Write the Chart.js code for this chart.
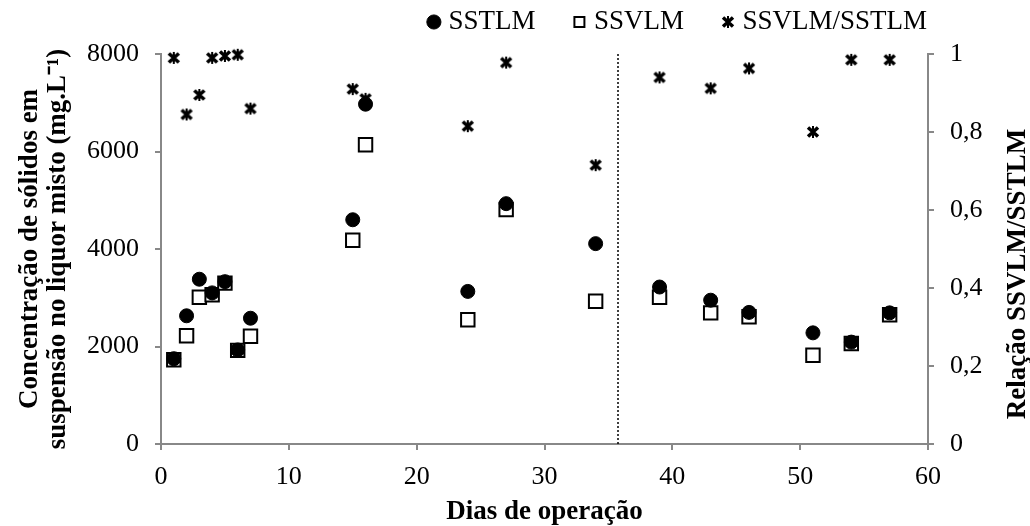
<!DOCTYPE html>
<html>
<head>
<meta charset="utf-8">
<script src="https://cdn.jsdelivr.net/npm/chart.js@4"></script>
<style>
  html, body { margin: 0; padding: 0; background: #fff; }
  #wrap { width: 1030px; height: 526px; }
</style>
</head>
<body>
<div id="wrap"><canvas id="chart" width="1030" height="526"></canvas></div>
<script>
// operating days and measured values
const days = [1, 2, 3, 4, 5, 6, 7, 15, 16, 24, 27, 34, 39, 43, 46, 51, 54, 57];
const sstlm = [1750, 2630, 3380, 3100, 3330, 1930, 2580, 4600, 6970, 3130, 4930, 4110, 3220, 2950, 2700, 2280, 2090, 2690];
const ssvlm = [1730, 2220, 3010, 3060, 3300, 1920, 2210, 4180, 6140, 2550, 4810, 2930, 3010, 2690, 2610, 1820, 2060, 2650];
const ratio = [0.99, 0.845, 0.895, 0.99, 0.995, 0.998, 0.86, 0.91, 0.885, 0.815, 0.978, 0.715, 0.94, 0.912, 0.963, 0.80, 0.985, 0.985];
const dividerDay = 35.75;

const FONT = "'Liberation Serif', 'Times New Roman', serif";
const AXIS_GREY = '#888888';

Chart.defaults.font.family = FONT;
Chart.defaults.color = '#000';

// heavy "x" marker with small vertical nubs, like the spreadsheet star marker
const starMark = document.createElement('canvas');
starMark.width = 14;
starMark.height = 14;
(() => {
    const c = starMark.getContext('2d');
    c.strokeStyle = '#000';
    c.lineWidth = 3.5;
    c.beginPath();
    c.moveTo(2, 2.5); c.lineTo(12, 11.5);
    c.moveTo(12, 2.5); c.lineTo(2, 11.5);
    c.stroke();
    c.lineWidth = 2;
    c.beginPath();
    c.moveTo(7, 1); c.lineTo(7, 13);
    c.stroke();
})();

const pts = (ys) => days.map((d, i) => ({x: d, y: ys[i]}));

const rightTitle = {
    id: 'rightTitle',
    afterDraw(chart) {
        const ctx = chart.ctx;
        ctx.save();
        ctx.translate(chart.width - 12, 274);
        ctx.rotate(-Math.PI / 2);
        ctx.font = 'bold 27px ' + FONT;
        ctx.fillStyle = '#000';
        ctx.textAlign = 'center';
        ctx.textBaseline = 'middle';
        ctx.fillText('Relação SSVLM/SSTLM', 0, 0);
        ctx.restore();
    }
};

new Chart(document.getElementById('chart'), {
    type: 'scatter',
    data: {
        datasets: [{
            label: 'SSTLM',
            data: pts(sstlm),
            pointStyle: 'circle',
            pointRadius: 7,
            backgroundColor: '#000',
            borderColor: '#000',
            borderWidth: 1,
            clip: false,
            yAxisID: 'y'
        }, {
            label: 'SSVLM',
            data: pts(ssvlm),
            pointStyle: 'rect',
            pointRadius: 9.5,
            backgroundColor: '#fff',
            borderColor: '#000',
            borderWidth: 2,
            clip: false,
            yAxisID: 'y'
        }, {
            label: 'SSVLM/SSTLM',
            data: pts(ratio),
            pointStyle: starMark,
            backgroundColor: '#000',
            borderColor: '#000',
            clip: false,
            yAxisID: 'y1'
        }, {
            label: 'divisao',
            type: 'line',
            data: [{x: dividerDay, y: 0}, {x: dividerDay, y: 8000}],
            borderColor: '#000',
            backgroundColor: 'rgba(0,0,0,0)',
            borderWidth: 1.5,
            borderDash: [2, 2],
            pointRadius: 0,
            yAxisID: 'y'
        }]
    },
    options: {
        responsive: false,
        animation: false,
        devicePixelRatio: 1,
        layout: {
            padding: {top: -34.5, right: 1.5, bottom: 0, left: 0}
        },
        plugins: {
            legend: {
                position: 'top',
                align: 'end',
                labels: {
                    usePointStyle: true,
                    boxWidth: 2,
                    boxHeight: 10,
                    padding: 43,
                    font: {size: 27},
                    // the divider keeps an empty, invisible entry (acts as right margin)
                    generateLabels: (chart) => Chart.defaults.plugins.legend.labels.generateLabels(chart)
                        .map(it => it.text === 'divisao'
                            ? {...it, text: '', fillStyle: 'rgba(0,0,0,0)', strokeStyle: 'rgba(0,0,0,0)', lineWidth: 0}
                            : it)
                }
            },
            // empty title used only as a spacer under the legend
            title: {
                display: true,
                text: '',
                weight: 500,
                font: {size: 1, lineHeight: 1},
                padding: {top: 0, bottom: 7.5}
            },
            tooltip: {enabled: false}
        },
        scales: {
            x: {
                type: 'linear',
                min: 0,
                max: 60,
                ticks: {stepSize: 10, padding: 12, font: {size: 26}},
                grid: {drawOnChartArea: false, tickLength: 6, color: AXIS_GREY, lineWidth: 2},
                border: {color: AXIS_GREY, width: 2},
                title: {
                    display: true,
                    text: 'Dias de operação',
                    font: {size: 27, weight: 'bold', lineHeight: 1},
                    padding: {top: 0, bottom: 0}
                },
                afterFit: (s) => { s.height = 82; }
            },
            y: {
                position: 'left',
                min: 0,
                max: 8000,
                ticks: {stepSize: 2000, padding: 16, font: {size: 26}, callback: (v) => String(v)},
                grid: {drawOnChartArea: false, tickLength: 6, color: AXIS_GREY, lineWidth: 2},
                border: {color: AXIS_GREY, width: 2},
                title: {
                    display: true,
                    text: ['Concentração de sólidos em', 'suspensão no liquor misto (mg.L⁻¹)'],
                    font: {size: 27, weight: 'bold', lineHeight: 1.05},
                    padding: {top: 16, bottom: 0}
                },
                afterFit: (s) => { s.width = 161; }
            },
            y1: {
                position: 'right',
                min: 0,
                max: 1,
                ticks: {
                    stepSize: 0.2,
                    padding: 16,
                    font: {size: 26},
                    callback: (v) => String(Math.round(v * 10) / 10).replace('.', ',')
                },
                grid: {drawOnChartArea: false, tickLength: 6, color: AXIS_GREY, lineWidth: 2},
                border: {color: AXIS_GREY, width: 2},
                afterFit: (s) => { s.width = 100.5; }
            }
        }
    },
    plugins: [rightTitle]
});
</script>
</body>
</html>
